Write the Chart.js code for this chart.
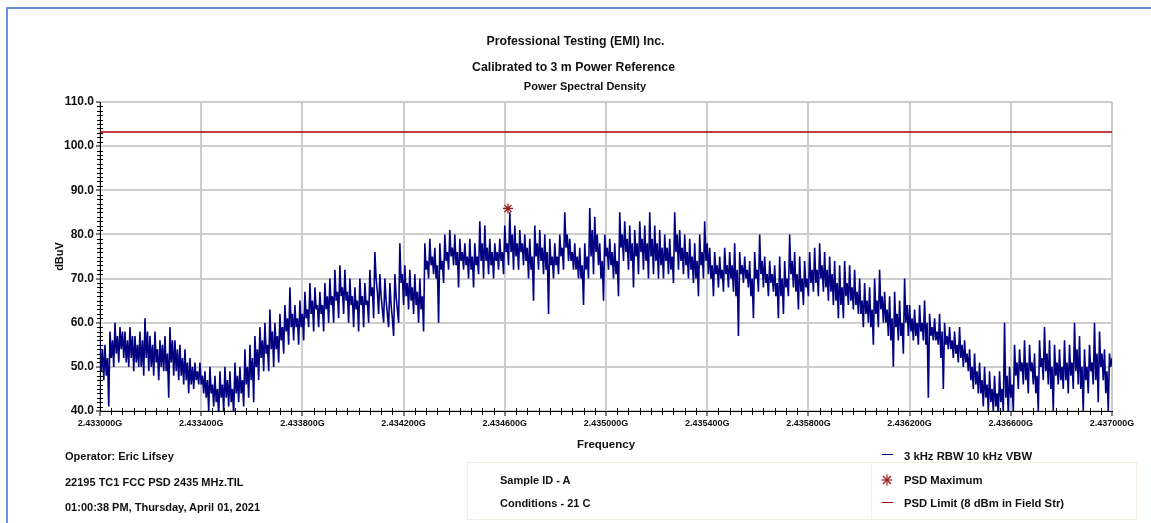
<!DOCTYPE html>
<html>
<head>
<meta charset="utf-8">
<script src="https://cdn.jsdelivr.net/npm/chart.js@4.4.1/dist/chart.umd.min.js"></script>
<style>
  body { margin: 0; background: #fff; width: 1151px; height: 523px; overflow: hidden; position: relative;
         font-family: 'Liberation Sans', Arial, sans-serif; font-weight: bold; color: #111; }
  #frame { position: absolute; left: 6px; top: 7px; width: 1200px; height: 600px;
           border-left: 2px solid #6394d6; border-top: 2px solid #6394d6; }
  #chart { position: absolute; left: 0; top: 0; }
  .t { position: absolute; white-space: nowrap; line-height: 14px; }
  .box { position: absolute; border: 1px solid #f6eee2; }
</style>
</head>
<body>
<div id="frame"></div>
<canvas id="chart" width="1151" height="523"></canvas>

<div class="t" style="left:0;width:1151px;text-align:center;top:34px;font-size:12.3px;">Professional Testing (EMI) Inc.</div>
<div class="t" style="left:0;width:1147px;text-align:center;top:60px;font-size:12.3px;">Calibrated to 3 m Power Reference</div>
<div class="t" style="left:0;width:1170px;text-align:center;top:79px;font-size:11px;">Power Spectral Density</div>

<div class="t" style="left:65px;top:449px;font-size:11px;">Operator: Eric Lifsey</div>
<div class="t" style="left:65px;top:475px;font-size:11px;">22195 TC1 FCC PSD 2435 MHz.TIL</div>
<div class="t" style="left:65px;top:500px;font-size:11px;">01:00:38 PM, Thursday, April 01, 2021</div>

<div class="box" style="left:467px;top:462px;width:403px;height:56px;"></div>
<div class="t" style="left:500px;top:473px;font-size:11px;">Sample ID - A</div>
<div class="t" style="left:500px;top:496px;font-size:11px;">Conditions - 21 C</div>

<div class="box" style="left:871px;top:462px;width:264px;height:56px;"></div>
<div style="position:absolute;left:882px;top:454px;width:11px;height:1px;background:#00007f;"></div>
<svg style="position:absolute;left:881px;top:474px;" width="12" height="12" viewBox="0 0 12 12">
  <g stroke="#a01818" stroke-width="1.2">
    <line x1="6" y1="0.5" x2="6" y2="11.5"/><line x1="0.5" y1="6" x2="11.5" y2="6"/>
    <line x1="2" y1="2" x2="10" y2="10"/><line x1="10" y1="2" x2="2" y2="10"/>
  </g>
</svg>
<div style="position:absolute;left:882px;top:502px;width:11px;height:1px;background:#a00000;"></div>
<div class="t" style="left:904px;top:449px;font-size:11.3px;">3 kHz RBW 10 kHz VBW</div>
<div class="t" style="left:904px;top:473px;font-size:11.3px;">PSD Maximum</div>
<div class="t" style="left:904px;top:496px;font-size:11.3px;">PSD Limit (8 dBm in Field Str)</div>

<script>
// sweep and axis values
const freqStartGHz = 2.433;
const freqStopGHz = 2.437;
const freqTicks = [2.4330, 2.4334, 2.4338, 2.4342, 2.4346, 2.4350, 2.4354, 2.4358, 2.4362, 2.4366, 2.4370];
const levelTicks = [40, 50, 60, 70, 80, 90, 100, 110];

const traceDbuV = [
  56,49,54,47, 55,48,52,41, 58,52,56,50, 60,53,57,51, 59,54,58,52, 58,51,56,50, 59,52,57,49, 57,51,55,50, 58,50,56,48, 61,52,58,49,
  57,50,55,48, 58,51,54,47, 56,50,55,49, 57,49,53,43, 59,51,56,48, 56,49,54,47, 55,48,52,46, 54,47,51,44, 52,46,50,45, 51,47,49,46,
  51,46,48,44, 49,43,47,40, 50,44,46,41, 48,42,45,39, 49,43,46,40, 50,43,47,41, 49,42,45,39, 51,44,48,42, 50,44,47,41, 54,46,50,43,
  55,47,52,42, 57,50,54,47, 59,52,56,49, 60,53,55,49, 63,54,58,50, 60,54,57,51, 62,56,59,53, 64,58,61,55, 68,59,62,56, 64,59,61,55,
  65,59,62,56, 67,61,63,59, 69,62,65,58, 68,63,64,59, 67,62,64,58, 69,63,66,60, 70,64,66,60, 72,65,67,61, 73,66,68,62, 72,65,67,60,
  70,64,66,59, 68,63,65,58, 70,64,66,59, 69,64,65,60, 72,66,68,61, 76,70,67,62, 71,66,63,60, 70,65,62,59, 69,64,61,57, 71,66,63,60,
  78,69,71,64, 73,66,69,63, 72,65,68,62, 71,64,67,60, 70,63,66,58, 78,72,74,70, 79,73,75,71, 77,70,73,60, 78,72,74,69, 80,74,76,72,
  81,75,77,73, 80,73,76,68, 79,74,76,72, 78,73,75,70, 79,72,75,68, 78,73,75,71, 83,74,78,70, 82,74,77,71, 79,73,76,70, 78,74,76,72,
  79,74,76,71, 82,76,78,73, 85,76,80,72, 82,75,78,72, 81,76,78,73, 80,74,77,70, 79,72,75,65, 82,75,78,72, 81,74,77,71, 80,72,76,62,
  79,73,75,70, 78,73,75,71, 80,75,77,72, 85,77,80,74, 79,74,76,72, 78,72,75,70, 77,70,73,64, 78,72,75,70, 86,75,81,71, 84,76,80,73,
  78,70,74,65, 80,75,77,72, 79,73,76,70, 78,71,74,66, 85,77,80,74, 83,76,79,72, 82,74,78,68, 81,75,78,71, 83,76,79,72, 82,74,78,70,
  85,75,79,71, 82,74,78,70, 81,73,77,70, 80,74,77,71, 79,72,75,69, 85,76,80,72, 81,74,77,71, 80,73,76,70, 79,72,75,69, 78,70,74,66,
  80,73,76,70, 83,74,78,71, 77,70,73,66, 76,71,73,68, 75,70,72,67, 77,71,73,68, 76,70,73,67, 78,66,72,57, 76,71,73,69, 75,70,72,68,
  74,66,70,61, 76,70,72,67, 80,71,74,68, 75,69,71,66, 74,69,71,67, 73,66,69,61, 75,66,70,62, 74,68,70,66, 80,71,74,68, 76,67,71,63,
  75,67,70,64, 74,68,70,66, 76,69,72,67, 77,69,72,66, 78,70,73,67, 76,68,72,65, 75,67,71,64, 74,65,69,61, 73,64,68,61, 74,66,69,64,
  73,65,68,63, 72,64,67,62, 70,62,65,59, 69,62,65,60, 68,59,63,55, 70,62,65,59, 72,63,66,60, 67,60,63,57, 66,56,61,50, 67,59,62,56,
  65,57,60,53, 70,60,64,57, 64,58,61,56, 63,57,60,55, 64,58,60,56, 65,55,60,43, 62,57,59,56, 61,56,58,55, 62,52,58,45, 60,55,57,54,
  59,54,56,52, 58,53,55,51, 59,52,55,50, 56,51,53,49, 54,47,50,45, 53,46,49,44, 51,44,47,41, 50,43,46,40, 49,42,45,40, 48,41,44,39,
  49,42,45,40, 60,43,48,39, 50,43,46,40, 55,48,51,45, 54,49,51,46, 56,47,51,44, 55,49,51,46, 53,44,48,40, 56,50,52,47, 59,49,53,46,
  56,45,50,40, 55,48,51,46, 54,47,50,45, 56,47,51,44, 55,48,51,45, 60,49,54,46, 57,45,50,40, 54,47,50,44, 55,49,51,46, 60,47,53,42,
  58,50,53,47, 54,44,49,40, 53,50,52
];

const limitDbuV = 103.2;
const peakFreqGHz = 2.4346126;
const peakDbuV = 85.9;

const step = (freqStopGHz - freqStartGHz) / (traceDbuV.length - 1);
const tracePoints = traceDbuV.map((v, i) => ({ x: freqStartGHz + i * step, y: v }));

const fontFamily = "'Liberation Sans', Arial, sans-serif";

// small minor ticks along both axes
const minorTicks = {
  id: 'minorTicks',
  afterDraw(chart) {
    const { ctx, scales: { x, y } } = chart;
    ctx.save();
    ctx.strokeStyle = '#000';
    ctx.lineWidth = 1;
    ctx.beginPath();
    for (let i = 0; i < freqTicks.length - 1; i++) {
      const a = freqTicks[i], b = freqTicks[i + 1];
      for (let k = 1; k < 9; k++) {
        const px = Math.round(x.getPixelForValue(a + (b - a) * k / 9)) + 0.5;
        ctx.moveTo(px, y.bottom - 3);
        ctx.lineTo(px, y.bottom + 4);
      }
    }
    for (let i = 0; i < levelTicks.length - 1; i++) {
      for (let k = 1; k < 10; k++) {
        const py = Math.round(y.getPixelForValue(levelTicks[i] + k)) + 0.5;
        ctx.moveTo(x.left - 3, py);
        ctx.lineTo(x.left + 3, py);
      }
    }
    ctx.stroke();
    ctx.restore();
  }
};

new Chart(document.getElementById('chart').getContext('2d'), {
  type: 'line',
  data: {
    datasets: [
      {
        label: '3 kHz RBW 10 kHz VBW',
        data: tracePoints,
        borderColor: '#000080',
        borderWidth: 1.6,
        borderJoinStyle: 'bevel',
        pointRadius: 0,
        tension: 0,
        order: 2
      },
      {
        label: 'PSD Limit (8 dBm in Field Str)',
        data: [{ x: freqStartGHz, y: limitDbuV }, { x: freqStopGHz, y: limitDbuV }],
        borderColor: '#a80000',
        borderWidth: 1.5,
        pointRadius: 0,
        order: 1
      },
      {
        label: 'PSD Maximum',
        data: [{ x: peakFreqGHz, y: peakDbuV }],
        showLine: false,
        pointStyle: 'star',
        pointRadius: 5,
        borderColor: '#a01818',
        borderWidth: 1.3,
        order: 0
      }
    ]
  },
  options: {
    responsive: false,
    animation: false,
    devicePixelRatio: 1,
    layout: { padding: { left: 53, right: 39, top: 102, bottom: 71 } },
    plugins: { legend: { display: false }, tooltip: { enabled: false }, title: { display: false } },
    scales: {
      x: {
        type: 'linear',
        min: freqStartGHz,
        max: freqStopGHz,
        afterBuildTicks: s => { s.ticks = freqTicks.map(v => ({ value: v })); },
        afterFit: s => { s.height = 41; },
        ticks: {
          autoSkip: false, maxRotation: 0, padding: 2, color: '#111',
          font: { family: fontFamily, size: 9, weight: 'bold' },
          callback: v => v.toFixed(6) + 'G'
        },
        grid: { color: '#cdcdcd', lineWidth: 2, tickColor: '#000', tickWidth: 1, tickLength: 5 },
        border: { color: '#000', width: 1 },
        title: {
          display: true, text: 'Frequency', color: '#111',
          font: { family: fontFamily, size: 11.5, weight: 'bold' }, padding: { top: 0, bottom: 0 }
        }
      },
      y: {
        min: 40,
        max: 110,
        afterBuildTicks: s => { s.ticks = levelTicks.map(v => ({ value: v })); },
        afterFit: s => { s.width = 47; },
        ticks: {
          padding: 2, color: '#111',
          font: { family: fontFamily, size: 12, weight: 'bold' },
          callback: v => v.toFixed(1)
        },
        grid: { color: '#cdcdcd', lineWidth: 2, tickColor: '#000', tickWidth: 1, tickLength: 4 },
        border: { color: '#000', width: 1 },
        title: {
          display: true, text: 'dBuV', color: '#111',
          font: { family: fontFamily, size: 11, weight: 'bold' }, padding: { top: 0, bottom: 0 }
        }
      }
    }
  },
  plugins: [minorTicks]
});
</script>
</body>
</html>
